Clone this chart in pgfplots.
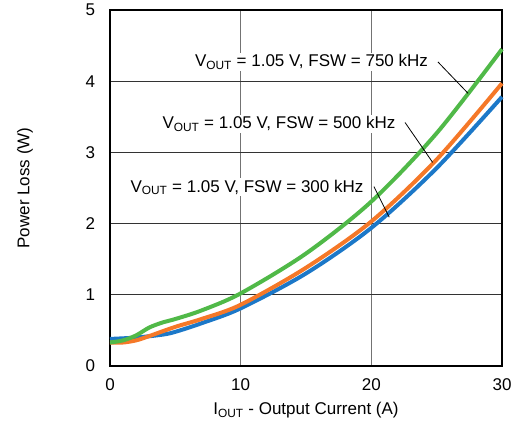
\documentclass[border=0pt]{standalone}
\usepackage{fontspec}
\setmainfont{Liberation Sans}
\usepackage{pgfplots}
\pgfplotsset{compat=1.18}
\definecolor{cblue}{RGB}{28,120,200}
\definecolor{corange}{RGB}{245,120,40}
\definecolor{cgreen}{RGB}{80,185,72}
\begin{document}
\fontsize{17}{20}\selectfont
\begin{tikzpicture}
\begin{axis}[
  scale only axis,
  width=392pt, height=356pt,
  xmin=0, xmax=30, ymin=0, ymax=5,
  xtick={0,10,20,30}, ytick={0,1,2,3,4,5},
  major tick length=0pt,
  grid=major,
  x grid style={line width=1.2pt, color=black!55},
  y grid style={line width=1.2pt, color=black!80},
  axis line style={line width=2.6pt, black},
  /pgf/number format/assume math mode=true,
  xticklabel style={yshift=-7pt},
  yticklabel style={xshift=-9pt},
  xlabel={I\textsubscript{OUT} - Output Current (A)},
  ylabel={Power Loss (W)},
  xlabel style={at={(axis description cs:0.5,-0.124)}, anchor=center},
  ylabel style={at={(axis description cs:-0.217,0.5)}, anchor=center, rotate=0},
  clip=false,
]
\addplot[cblue, line width=4pt, smooth] coordinates {
(0,0.38)(2,0.40)(4,0.44)(5,0.48)(7,0.60)(10,0.81)(15,1.30)(20,1.94)(25,2.78)(30,3.78)};
\addplot[corange, line width=4pt, smooth] coordinates {
(0,0.33)(1,0.33)(2,0.36)(3,0.42)(5,0.55)(7,0.66)(10,0.86)(15,1.38)(20,2.03)(25,2.90)(30,3.97)};
\addplot[cgreen, line width=4pt, smooth] coordinates {
(0,0.33)(1,0.36)(2,0.43)(3,0.54)(4,0.61)(5,0.66)(7,0.78)(10,1.02)(15,1.58)(20,2.31)(25,3.27)(30,4.45)};
\draw[black, line width=0.8pt] (axis cs:25.1,4.27) -- (axis cs:27.4,3.83);
\draw[black, line width=0.8pt] (axis cs:22.58,3.42) -- (axis cs:24.69,2.86);
\draw[black, line width=0.8pt] (axis cs:20.2,2.52) -- (axis cs:21.37,2.09);
\node[fill=white, inner sep=1.5pt] at (axis cs:15.42,4.27) {V\textsubscript{OUT} = 1.05 V, FSW = 750 kHz};
\node[fill=white, inner sep=1.5pt] at (axis cs:12.93,3.40) {V\textsubscript{OUT} = 1.05 V, FSW = 500 kHz};
\node[fill=white, inner sep=1.5pt] at (axis cs:10.48,2.51) {V\textsubscript{OUT} = 1.05 V, FSW = 300 kHz};
\end{axis}
\pgfresetboundingbox
\path[use as bounding box] (-110pt,-67pt) rectangle (403pt,366pt);
\end{tikzpicture}
\end{document}
